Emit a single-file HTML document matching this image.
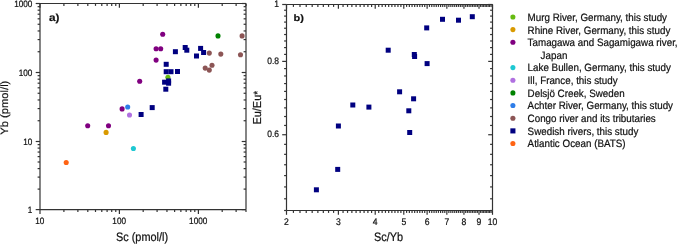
<!DOCTYPE html>
<html><head><meta charset="utf-8"><style>html,body{margin:0;padding:0;background:#fff;width:677px;height:244px;overflow:hidden}svg{display:block;will-change:transform}text{font-family:"Liberation Sans",sans-serif;text-rendering:geometricPrecision}</style></head>
<body><svg width="677" height="244" viewBox="0 0 677 244" font-family="Liberation Sans, sans-serif" fill="#111">
<rect width="677" height="244" fill="#fff"/>
<g><line x1="40.00" y1="3.50" x2="246.00" y2="3.50" stroke="#333333" stroke-width="1.2"/><line x1="40.00" y1="209.60" x2="246.00" y2="209.60" stroke="#333333" stroke-width="1.2"/><line x1="40.00" y1="3.50" x2="40.00" y2="209.60" stroke="#333333" stroke-width="1.2"/><line x1="246.00" y1="3.50" x2="246.00" y2="209.60" stroke="#333333" stroke-width="1.2"/><line x1="40.00" y1="209.60" x2="40.00" y2="213.90" stroke="#333333" stroke-width="1.2"/><line x1="40.00" y1="3.50" x2="40.00" y2="7.80" stroke="#333333" stroke-width="1.2"/><line x1="63.90" y1="209.60" x2="63.90" y2="212.00" stroke="#333333" stroke-width="1.2"/><line x1="63.90" y1="3.50" x2="63.90" y2="5.90" stroke="#333333" stroke-width="1.2"/><line x1="77.88" y1="209.60" x2="77.88" y2="212.00" stroke="#333333" stroke-width="1.2"/><line x1="77.88" y1="3.50" x2="77.88" y2="5.90" stroke="#333333" stroke-width="1.2"/><line x1="87.80" y1="209.60" x2="87.80" y2="212.00" stroke="#333333" stroke-width="1.2"/><line x1="87.80" y1="3.50" x2="87.80" y2="5.90" stroke="#333333" stroke-width="1.2"/><line x1="95.50" y1="209.60" x2="95.50" y2="212.00" stroke="#333333" stroke-width="1.2"/><line x1="95.50" y1="3.50" x2="95.50" y2="5.90" stroke="#333333" stroke-width="1.2"/><line x1="101.79" y1="209.60" x2="101.79" y2="212.00" stroke="#333333" stroke-width="1.2"/><line x1="101.79" y1="3.50" x2="101.79" y2="5.90" stroke="#333333" stroke-width="1.2"/><line x1="107.10" y1="209.60" x2="107.10" y2="212.00" stroke="#333333" stroke-width="1.2"/><line x1="107.10" y1="3.50" x2="107.10" y2="5.90" stroke="#333333" stroke-width="1.2"/><line x1="111.71" y1="209.60" x2="111.71" y2="212.00" stroke="#333333" stroke-width="1.2"/><line x1="111.71" y1="3.50" x2="111.71" y2="5.90" stroke="#333333" stroke-width="1.2"/><line x1="115.77" y1="209.60" x2="115.77" y2="212.00" stroke="#333333" stroke-width="1.2"/><line x1="115.77" y1="3.50" x2="115.77" y2="5.90" stroke="#333333" stroke-width="1.2"/><line x1="119.40" y1="209.60" x2="119.40" y2="213.90" stroke="#333333" stroke-width="1.2"/><line x1="119.40" y1="3.50" x2="119.40" y2="7.80" stroke="#333333" stroke-width="1.2"/><line x1="143.18" y1="209.60" x2="143.18" y2="212.00" stroke="#333333" stroke-width="1.2"/><line x1="143.18" y1="3.50" x2="143.18" y2="5.90" stroke="#333333" stroke-width="1.2"/><line x1="157.09" y1="209.60" x2="157.09" y2="212.00" stroke="#333333" stroke-width="1.2"/><line x1="157.09" y1="3.50" x2="157.09" y2="5.90" stroke="#333333" stroke-width="1.2"/><line x1="166.96" y1="209.60" x2="166.96" y2="212.00" stroke="#333333" stroke-width="1.2"/><line x1="166.96" y1="3.50" x2="166.96" y2="5.90" stroke="#333333" stroke-width="1.2"/><line x1="174.62" y1="209.60" x2="174.62" y2="212.00" stroke="#333333" stroke-width="1.2"/><line x1="174.62" y1="3.50" x2="174.62" y2="5.90" stroke="#333333" stroke-width="1.2"/><line x1="180.87" y1="209.60" x2="180.87" y2="212.00" stroke="#333333" stroke-width="1.2"/><line x1="180.87" y1="3.50" x2="180.87" y2="5.90" stroke="#333333" stroke-width="1.2"/><line x1="186.16" y1="209.60" x2="186.16" y2="212.00" stroke="#333333" stroke-width="1.2"/><line x1="186.16" y1="3.50" x2="186.16" y2="5.90" stroke="#333333" stroke-width="1.2"/><line x1="190.74" y1="209.60" x2="190.74" y2="212.00" stroke="#333333" stroke-width="1.2"/><line x1="190.74" y1="3.50" x2="190.74" y2="5.90" stroke="#333333" stroke-width="1.2"/><line x1="194.79" y1="209.60" x2="194.79" y2="212.00" stroke="#333333" stroke-width="1.2"/><line x1="194.79" y1="3.50" x2="194.79" y2="5.90" stroke="#333333" stroke-width="1.2"/><line x1="198.40" y1="209.60" x2="198.40" y2="213.90" stroke="#333333" stroke-width="1.2"/><line x1="198.40" y1="3.50" x2="198.40" y2="7.80" stroke="#333333" stroke-width="1.2"/><line x1="222.20" y1="209.60" x2="222.20" y2="212.00" stroke="#333333" stroke-width="1.2"/><line x1="222.20" y1="3.50" x2="222.20" y2="5.90" stroke="#333333" stroke-width="1.2"/><line x1="236.12" y1="209.60" x2="236.12" y2="212.00" stroke="#333333" stroke-width="1.2"/><line x1="236.12" y1="3.50" x2="236.12" y2="5.90" stroke="#333333" stroke-width="1.2"/><line x1="246.00" y1="209.60" x2="246.00" y2="212.00" stroke="#333333" stroke-width="1.2"/><line x1="246.00" y1="3.50" x2="246.00" y2="5.90" stroke="#333333" stroke-width="1.2"/><line x1="35.70" y1="209.60" x2="40.00" y2="209.60" stroke="#333333" stroke-width="1.2"/><line x1="241.70" y1="209.60" x2="246.00" y2="209.60" stroke="#333333" stroke-width="1.2"/><line x1="37.60" y1="189.10" x2="40.00" y2="189.10" stroke="#333333" stroke-width="1.2"/><line x1="243.60" y1="189.10" x2="246.00" y2="189.10" stroke="#333333" stroke-width="1.2"/><line x1="37.60" y1="177.11" x2="40.00" y2="177.11" stroke="#333333" stroke-width="1.2"/><line x1="243.60" y1="177.11" x2="246.00" y2="177.11" stroke="#333333" stroke-width="1.2"/><line x1="37.60" y1="168.60" x2="40.00" y2="168.60" stroke="#333333" stroke-width="1.2"/><line x1="243.60" y1="168.60" x2="246.00" y2="168.60" stroke="#333333" stroke-width="1.2"/><line x1="37.60" y1="162.00" x2="40.00" y2="162.00" stroke="#333333" stroke-width="1.2"/><line x1="243.60" y1="162.00" x2="246.00" y2="162.00" stroke="#333333" stroke-width="1.2"/><line x1="37.60" y1="156.61" x2="40.00" y2="156.61" stroke="#333333" stroke-width="1.2"/><line x1="243.60" y1="156.61" x2="246.00" y2="156.61" stroke="#333333" stroke-width="1.2"/><line x1="37.60" y1="152.05" x2="40.00" y2="152.05" stroke="#333333" stroke-width="1.2"/><line x1="243.60" y1="152.05" x2="246.00" y2="152.05" stroke="#333333" stroke-width="1.2"/><line x1="37.60" y1="148.10" x2="40.00" y2="148.10" stroke="#333333" stroke-width="1.2"/><line x1="243.60" y1="148.10" x2="246.00" y2="148.10" stroke="#333333" stroke-width="1.2"/><line x1="37.60" y1="144.62" x2="40.00" y2="144.62" stroke="#333333" stroke-width="1.2"/><line x1="243.60" y1="144.62" x2="246.00" y2="144.62" stroke="#333333" stroke-width="1.2"/><line x1="35.70" y1="141.50" x2="40.00" y2="141.50" stroke="#333333" stroke-width="1.2"/><line x1="241.70" y1="141.50" x2="246.00" y2="141.50" stroke="#333333" stroke-width="1.2"/><line x1="37.60" y1="120.73" x2="40.00" y2="120.73" stroke="#333333" stroke-width="1.2"/><line x1="243.60" y1="120.73" x2="246.00" y2="120.73" stroke="#333333" stroke-width="1.2"/><line x1="37.60" y1="108.58" x2="40.00" y2="108.58" stroke="#333333" stroke-width="1.2"/><line x1="243.60" y1="108.58" x2="246.00" y2="108.58" stroke="#333333" stroke-width="1.2"/><line x1="37.60" y1="99.96" x2="40.00" y2="99.96" stroke="#333333" stroke-width="1.2"/><line x1="243.60" y1="99.96" x2="246.00" y2="99.96" stroke="#333333" stroke-width="1.2"/><line x1="37.60" y1="93.27" x2="40.00" y2="93.27" stroke="#333333" stroke-width="1.2"/><line x1="243.60" y1="93.27" x2="246.00" y2="93.27" stroke="#333333" stroke-width="1.2"/><line x1="37.60" y1="87.81" x2="40.00" y2="87.81" stroke="#333333" stroke-width="1.2"/><line x1="243.60" y1="87.81" x2="246.00" y2="87.81" stroke="#333333" stroke-width="1.2"/><line x1="37.60" y1="83.19" x2="40.00" y2="83.19" stroke="#333333" stroke-width="1.2"/><line x1="243.60" y1="83.19" x2="246.00" y2="83.19" stroke="#333333" stroke-width="1.2"/><line x1="37.60" y1="79.19" x2="40.00" y2="79.19" stroke="#333333" stroke-width="1.2"/><line x1="243.60" y1="79.19" x2="246.00" y2="79.19" stroke="#333333" stroke-width="1.2"/><line x1="37.60" y1="75.66" x2="40.00" y2="75.66" stroke="#333333" stroke-width="1.2"/><line x1="243.60" y1="75.66" x2="246.00" y2="75.66" stroke="#333333" stroke-width="1.2"/><line x1="35.70" y1="72.50" x2="40.00" y2="72.50" stroke="#333333" stroke-width="1.2"/><line x1="241.70" y1="72.50" x2="246.00" y2="72.50" stroke="#333333" stroke-width="1.2"/><line x1="37.60" y1="51.73" x2="40.00" y2="51.73" stroke="#333333" stroke-width="1.2"/><line x1="243.60" y1="51.73" x2="246.00" y2="51.73" stroke="#333333" stroke-width="1.2"/><line x1="37.60" y1="39.58" x2="40.00" y2="39.58" stroke="#333333" stroke-width="1.2"/><line x1="243.60" y1="39.58" x2="246.00" y2="39.58" stroke="#333333" stroke-width="1.2"/><line x1="37.60" y1="30.96" x2="40.00" y2="30.96" stroke="#333333" stroke-width="1.2"/><line x1="243.60" y1="30.96" x2="246.00" y2="30.96" stroke="#333333" stroke-width="1.2"/><line x1="37.60" y1="24.27" x2="40.00" y2="24.27" stroke="#333333" stroke-width="1.2"/><line x1="243.60" y1="24.27" x2="246.00" y2="24.27" stroke="#333333" stroke-width="1.2"/><line x1="37.60" y1="18.81" x2="40.00" y2="18.81" stroke="#333333" stroke-width="1.2"/><line x1="243.60" y1="18.81" x2="246.00" y2="18.81" stroke="#333333" stroke-width="1.2"/><line x1="37.60" y1="14.19" x2="40.00" y2="14.19" stroke="#333333" stroke-width="1.2"/><line x1="243.60" y1="14.19" x2="246.00" y2="14.19" stroke="#333333" stroke-width="1.2"/><line x1="37.60" y1="10.19" x2="40.00" y2="10.19" stroke="#333333" stroke-width="1.2"/><line x1="243.60" y1="10.19" x2="246.00" y2="10.19" stroke="#333333" stroke-width="1.2"/><line x1="37.60" y1="6.66" x2="40.00" y2="6.66" stroke="#333333" stroke-width="1.2"/><line x1="243.60" y1="6.66" x2="246.00" y2="6.66" stroke="#333333" stroke-width="1.2"/><line x1="35.70" y1="3.50" x2="40.00" y2="3.50" stroke="#333333" stroke-width="1.2"/><line x1="241.70" y1="3.50" x2="246.00" y2="3.50" stroke="#333333" stroke-width="1.2"/><line x1="286.50" y1="4.50" x2="492.50" y2="4.50" stroke="#333333" stroke-width="1.2"/><line x1="286.50" y1="210.50" x2="492.50" y2="210.50" stroke="#333333" stroke-width="1.2"/><line x1="286.50" y1="4.50" x2="286.50" y2="210.50" stroke="#333333" stroke-width="1.2"/><line x1="492.50" y1="4.50" x2="492.50" y2="210.50" stroke="#333333" stroke-width="1.2"/><line x1="286.50" y1="210.50" x2="286.50" y2="214.80" stroke="#333333" stroke-width="1.2"/><line x1="286.50" y1="4.50" x2="286.50" y2="8.80" stroke="#333333" stroke-width="1.2"/><line x1="293.42" y1="210.50" x2="293.42" y2="212.90" stroke="#333333" stroke-width="1.2"/><line x1="293.42" y1="4.50" x2="293.42" y2="6.90" stroke="#333333" stroke-width="1.2"/><line x1="299.99" y1="210.50" x2="299.99" y2="212.90" stroke="#333333" stroke-width="1.2"/><line x1="299.99" y1="4.50" x2="299.99" y2="6.90" stroke="#333333" stroke-width="1.2"/><line x1="306.23" y1="210.50" x2="306.23" y2="212.90" stroke="#333333" stroke-width="1.2"/><line x1="306.23" y1="4.50" x2="306.23" y2="6.90" stroke="#333333" stroke-width="1.2"/><line x1="312.18" y1="210.50" x2="312.18" y2="212.90" stroke="#333333" stroke-width="1.2"/><line x1="312.18" y1="4.50" x2="312.18" y2="6.90" stroke="#333333" stroke-width="1.2"/><line x1="317.87" y1="210.50" x2="317.87" y2="212.90" stroke="#333333" stroke-width="1.2"/><line x1="317.87" y1="4.50" x2="317.87" y2="6.90" stroke="#333333" stroke-width="1.2"/><line x1="323.32" y1="210.50" x2="323.32" y2="212.90" stroke="#333333" stroke-width="1.2"/><line x1="323.32" y1="4.50" x2="323.32" y2="6.90" stroke="#333333" stroke-width="1.2"/><line x1="328.55" y1="210.50" x2="328.55" y2="212.90" stroke="#333333" stroke-width="1.2"/><line x1="328.55" y1="4.50" x2="328.55" y2="6.90" stroke="#333333" stroke-width="1.2"/><line x1="333.57" y1="210.50" x2="333.57" y2="212.90" stroke="#333333" stroke-width="1.2"/><line x1="333.57" y1="4.50" x2="333.57" y2="6.90" stroke="#333333" stroke-width="1.2"/><line x1="338.40" y1="210.50" x2="338.40" y2="214.80" stroke="#333333" stroke-width="1.2"/><line x1="338.40" y1="4.50" x2="338.40" y2="8.80" stroke="#333333" stroke-width="1.2"/><line x1="343.05" y1="210.50" x2="343.05" y2="212.90" stroke="#333333" stroke-width="1.2"/><line x1="343.05" y1="4.50" x2="343.05" y2="6.90" stroke="#333333" stroke-width="1.2"/><line x1="347.54" y1="210.50" x2="347.54" y2="212.90" stroke="#333333" stroke-width="1.2"/><line x1="347.54" y1="4.50" x2="347.54" y2="6.90" stroke="#333333" stroke-width="1.2"/><line x1="351.88" y1="210.50" x2="351.88" y2="212.90" stroke="#333333" stroke-width="1.2"/><line x1="351.88" y1="4.50" x2="351.88" y2="6.90" stroke="#333333" stroke-width="1.2"/><line x1="356.08" y1="210.50" x2="356.08" y2="212.90" stroke="#333333" stroke-width="1.2"/><line x1="356.08" y1="4.50" x2="356.08" y2="6.90" stroke="#333333" stroke-width="1.2"/><line x1="360.14" y1="210.50" x2="360.14" y2="212.90" stroke="#333333" stroke-width="1.2"/><line x1="360.14" y1="4.50" x2="360.14" y2="6.90" stroke="#333333" stroke-width="1.2"/><line x1="364.08" y1="210.50" x2="364.08" y2="212.90" stroke="#333333" stroke-width="1.2"/><line x1="364.08" y1="4.50" x2="364.08" y2="6.90" stroke="#333333" stroke-width="1.2"/><line x1="367.90" y1="210.50" x2="367.90" y2="212.90" stroke="#333333" stroke-width="1.2"/><line x1="367.90" y1="4.50" x2="367.90" y2="6.90" stroke="#333333" stroke-width="1.2"/><line x1="371.61" y1="210.50" x2="371.61" y2="212.90" stroke="#333333" stroke-width="1.2"/><line x1="371.61" y1="4.50" x2="371.61" y2="6.90" stroke="#333333" stroke-width="1.2"/><line x1="375.22" y1="210.50" x2="375.22" y2="214.80" stroke="#333333" stroke-width="1.2"/><line x1="375.22" y1="4.50" x2="375.22" y2="8.80" stroke="#333333" stroke-width="1.2"/><line x1="378.73" y1="210.50" x2="378.73" y2="212.90" stroke="#333333" stroke-width="1.2"/><line x1="378.73" y1="4.50" x2="378.73" y2="6.90" stroke="#333333" stroke-width="1.2"/><line x1="382.14" y1="210.50" x2="382.14" y2="212.90" stroke="#333333" stroke-width="1.2"/><line x1="382.14" y1="4.50" x2="382.14" y2="6.90" stroke="#333333" stroke-width="1.2"/><line x1="385.46" y1="210.50" x2="385.46" y2="212.90" stroke="#333333" stroke-width="1.2"/><line x1="385.46" y1="4.50" x2="385.46" y2="6.90" stroke="#333333" stroke-width="1.2"/><line x1="388.70" y1="210.50" x2="388.70" y2="212.90" stroke="#333333" stroke-width="1.2"/><line x1="388.70" y1="4.50" x2="388.70" y2="6.90" stroke="#333333" stroke-width="1.2"/><line x1="391.87" y1="210.50" x2="391.87" y2="212.90" stroke="#333333" stroke-width="1.2"/><line x1="391.87" y1="4.50" x2="391.87" y2="6.90" stroke="#333333" stroke-width="1.2"/><line x1="394.95" y1="210.50" x2="394.95" y2="212.90" stroke="#333333" stroke-width="1.2"/><line x1="394.95" y1="4.50" x2="394.95" y2="6.90" stroke="#333333" stroke-width="1.2"/><line x1="397.96" y1="210.50" x2="397.96" y2="212.90" stroke="#333333" stroke-width="1.2"/><line x1="397.96" y1="4.50" x2="397.96" y2="6.90" stroke="#333333" stroke-width="1.2"/><line x1="400.90" y1="210.50" x2="400.90" y2="212.90" stroke="#333333" stroke-width="1.2"/><line x1="400.90" y1="4.50" x2="400.90" y2="6.90" stroke="#333333" stroke-width="1.2"/><line x1="403.78" y1="210.50" x2="403.78" y2="214.80" stroke="#333333" stroke-width="1.2"/><line x1="403.78" y1="4.50" x2="403.78" y2="8.80" stroke="#333333" stroke-width="1.2"/><line x1="406.59" y1="210.50" x2="406.59" y2="212.90" stroke="#333333" stroke-width="1.2"/><line x1="406.59" y1="4.50" x2="406.59" y2="6.90" stroke="#333333" stroke-width="1.2"/><line x1="409.35" y1="210.50" x2="409.35" y2="212.90" stroke="#333333" stroke-width="1.2"/><line x1="409.35" y1="4.50" x2="409.35" y2="6.90" stroke="#333333" stroke-width="1.2"/><line x1="412.04" y1="210.50" x2="412.04" y2="212.90" stroke="#333333" stroke-width="1.2"/><line x1="412.04" y1="4.50" x2="412.04" y2="6.90" stroke="#333333" stroke-width="1.2"/><line x1="414.68" y1="210.50" x2="414.68" y2="212.90" stroke="#333333" stroke-width="1.2"/><line x1="414.68" y1="4.50" x2="414.68" y2="6.90" stroke="#333333" stroke-width="1.2"/><line x1="417.27" y1="210.50" x2="417.27" y2="212.90" stroke="#333333" stroke-width="1.2"/><line x1="417.27" y1="4.50" x2="417.27" y2="6.90" stroke="#333333" stroke-width="1.2"/><line x1="419.80" y1="210.50" x2="419.80" y2="212.90" stroke="#333333" stroke-width="1.2"/><line x1="419.80" y1="4.50" x2="419.80" y2="6.90" stroke="#333333" stroke-width="1.2"/><line x1="422.29" y1="210.50" x2="422.29" y2="212.90" stroke="#333333" stroke-width="1.2"/><line x1="422.29" y1="4.50" x2="422.29" y2="6.90" stroke="#333333" stroke-width="1.2"/><line x1="424.72" y1="210.50" x2="424.72" y2="212.90" stroke="#333333" stroke-width="1.2"/><line x1="424.72" y1="4.50" x2="424.72" y2="6.90" stroke="#333333" stroke-width="1.2"/><line x1="427.12" y1="210.50" x2="427.12" y2="214.80" stroke="#333333" stroke-width="1.2"/><line x1="427.12" y1="4.50" x2="427.12" y2="8.80" stroke="#333333" stroke-width="1.2"/><line x1="429.47" y1="210.50" x2="429.47" y2="212.90" stroke="#333333" stroke-width="1.2"/><line x1="429.47" y1="4.50" x2="429.47" y2="6.90" stroke="#333333" stroke-width="1.2"/><line x1="431.77" y1="210.50" x2="431.77" y2="212.90" stroke="#333333" stroke-width="1.2"/><line x1="431.77" y1="4.50" x2="431.77" y2="6.90" stroke="#333333" stroke-width="1.2"/><line x1="434.04" y1="210.50" x2="434.04" y2="212.90" stroke="#333333" stroke-width="1.2"/><line x1="434.04" y1="4.50" x2="434.04" y2="6.90" stroke="#333333" stroke-width="1.2"/><line x1="436.26" y1="210.50" x2="436.26" y2="212.90" stroke="#333333" stroke-width="1.2"/><line x1="436.26" y1="4.50" x2="436.26" y2="6.90" stroke="#333333" stroke-width="1.2"/><line x1="438.45" y1="210.50" x2="438.45" y2="212.90" stroke="#333333" stroke-width="1.2"/><line x1="438.45" y1="4.50" x2="438.45" y2="6.90" stroke="#333333" stroke-width="1.2"/><line x1="440.60" y1="210.50" x2="440.60" y2="212.90" stroke="#333333" stroke-width="1.2"/><line x1="440.60" y1="4.50" x2="440.60" y2="6.90" stroke="#333333" stroke-width="1.2"/><line x1="442.72" y1="210.50" x2="442.72" y2="212.90" stroke="#333333" stroke-width="1.2"/><line x1="442.72" y1="4.50" x2="442.72" y2="6.90" stroke="#333333" stroke-width="1.2"/><line x1="444.80" y1="210.50" x2="444.80" y2="212.90" stroke="#333333" stroke-width="1.2"/><line x1="444.80" y1="4.50" x2="444.80" y2="6.90" stroke="#333333" stroke-width="1.2"/><line x1="446.85" y1="210.50" x2="446.85" y2="214.80" stroke="#333333" stroke-width="1.2"/><line x1="446.85" y1="4.50" x2="446.85" y2="8.80" stroke="#333333" stroke-width="1.2"/><line x1="448.86" y1="210.50" x2="448.86" y2="212.90" stroke="#333333" stroke-width="1.2"/><line x1="448.86" y1="4.50" x2="448.86" y2="6.90" stroke="#333333" stroke-width="1.2"/><line x1="450.85" y1="210.50" x2="450.85" y2="212.90" stroke="#333333" stroke-width="1.2"/><line x1="450.85" y1="4.50" x2="450.85" y2="6.90" stroke="#333333" stroke-width="1.2"/><line x1="452.80" y1="210.50" x2="452.80" y2="212.90" stroke="#333333" stroke-width="1.2"/><line x1="452.80" y1="4.50" x2="452.80" y2="6.90" stroke="#333333" stroke-width="1.2"/><line x1="454.73" y1="210.50" x2="454.73" y2="212.90" stroke="#333333" stroke-width="1.2"/><line x1="454.73" y1="4.50" x2="454.73" y2="6.90" stroke="#333333" stroke-width="1.2"/><line x1="456.62" y1="210.50" x2="456.62" y2="212.90" stroke="#333333" stroke-width="1.2"/><line x1="456.62" y1="4.50" x2="456.62" y2="6.90" stroke="#333333" stroke-width="1.2"/><line x1="458.49" y1="210.50" x2="458.49" y2="212.90" stroke="#333333" stroke-width="1.2"/><line x1="458.49" y1="4.50" x2="458.49" y2="6.90" stroke="#333333" stroke-width="1.2"/><line x1="460.33" y1="210.50" x2="460.33" y2="212.90" stroke="#333333" stroke-width="1.2"/><line x1="460.33" y1="4.50" x2="460.33" y2="6.90" stroke="#333333" stroke-width="1.2"/><line x1="462.15" y1="210.50" x2="462.15" y2="212.90" stroke="#333333" stroke-width="1.2"/><line x1="462.15" y1="4.50" x2="462.15" y2="6.90" stroke="#333333" stroke-width="1.2"/><line x1="463.94" y1="210.50" x2="463.94" y2="214.80" stroke="#333333" stroke-width="1.2"/><line x1="463.94" y1="4.50" x2="463.94" y2="8.80" stroke="#333333" stroke-width="1.2"/><line x1="465.70" y1="210.50" x2="465.70" y2="212.90" stroke="#333333" stroke-width="1.2"/><line x1="465.70" y1="4.50" x2="465.70" y2="6.90" stroke="#333333" stroke-width="1.2"/><line x1="467.45" y1="210.50" x2="467.45" y2="212.90" stroke="#333333" stroke-width="1.2"/><line x1="467.45" y1="4.50" x2="467.45" y2="6.90" stroke="#333333" stroke-width="1.2"/><line x1="469.16" y1="210.50" x2="469.16" y2="212.90" stroke="#333333" stroke-width="1.2"/><line x1="469.16" y1="4.50" x2="469.16" y2="6.90" stroke="#333333" stroke-width="1.2"/><line x1="470.86" y1="210.50" x2="470.86" y2="212.90" stroke="#333333" stroke-width="1.2"/><line x1="470.86" y1="4.50" x2="470.86" y2="6.90" stroke="#333333" stroke-width="1.2"/><line x1="472.53" y1="210.50" x2="472.53" y2="212.90" stroke="#333333" stroke-width="1.2"/><line x1="472.53" y1="4.50" x2="472.53" y2="6.90" stroke="#333333" stroke-width="1.2"/><line x1="474.18" y1="210.50" x2="474.18" y2="212.90" stroke="#333333" stroke-width="1.2"/><line x1="474.18" y1="4.50" x2="474.18" y2="6.90" stroke="#333333" stroke-width="1.2"/><line x1="475.81" y1="210.50" x2="475.81" y2="212.90" stroke="#333333" stroke-width="1.2"/><line x1="475.81" y1="4.50" x2="475.81" y2="6.90" stroke="#333333" stroke-width="1.2"/><line x1="477.42" y1="210.50" x2="477.42" y2="212.90" stroke="#333333" stroke-width="1.2"/><line x1="477.42" y1="4.50" x2="477.42" y2="6.90" stroke="#333333" stroke-width="1.2"/><line x1="479.01" y1="210.50" x2="479.01" y2="214.80" stroke="#333333" stroke-width="1.2"/><line x1="479.01" y1="4.50" x2="479.01" y2="8.80" stroke="#333333" stroke-width="1.2"/><line x1="480.58" y1="210.50" x2="480.58" y2="212.90" stroke="#333333" stroke-width="1.2"/><line x1="480.58" y1="4.50" x2="480.58" y2="6.90" stroke="#333333" stroke-width="1.2"/><line x1="482.14" y1="210.50" x2="482.14" y2="212.90" stroke="#333333" stroke-width="1.2"/><line x1="482.14" y1="4.50" x2="482.14" y2="6.90" stroke="#333333" stroke-width="1.2"/><line x1="483.67" y1="210.50" x2="483.67" y2="212.90" stroke="#333333" stroke-width="1.2"/><line x1="483.67" y1="4.50" x2="483.67" y2="6.90" stroke="#333333" stroke-width="1.2"/><line x1="485.18" y1="210.50" x2="485.18" y2="212.90" stroke="#333333" stroke-width="1.2"/><line x1="485.18" y1="4.50" x2="485.18" y2="6.90" stroke="#333333" stroke-width="1.2"/><line x1="486.68" y1="210.50" x2="486.68" y2="212.90" stroke="#333333" stroke-width="1.2"/><line x1="486.68" y1="4.50" x2="486.68" y2="6.90" stroke="#333333" stroke-width="1.2"/><line x1="488.16" y1="210.50" x2="488.16" y2="212.90" stroke="#333333" stroke-width="1.2"/><line x1="488.16" y1="4.50" x2="488.16" y2="6.90" stroke="#333333" stroke-width="1.2"/><line x1="489.62" y1="210.50" x2="489.62" y2="212.90" stroke="#333333" stroke-width="1.2"/><line x1="489.62" y1="4.50" x2="489.62" y2="6.90" stroke="#333333" stroke-width="1.2"/><line x1="491.07" y1="210.50" x2="491.07" y2="212.90" stroke="#333333" stroke-width="1.2"/><line x1="491.07" y1="4.50" x2="491.07" y2="6.90" stroke="#333333" stroke-width="1.2"/><line x1="492.50" y1="210.50" x2="492.50" y2="214.80" stroke="#333333" stroke-width="1.2"/><line x1="492.50" y1="4.50" x2="492.50" y2="8.80" stroke="#333333" stroke-width="1.2"/><line x1="282.20" y1="4.50" x2="286.50" y2="4.50" stroke="#333333" stroke-width="1.2"/><line x1="488.20" y1="4.50" x2="492.50" y2="4.50" stroke="#333333" stroke-width="1.2"/><line x1="284.10" y1="10.23" x2="286.50" y2="10.23" stroke="#333333" stroke-width="1.2"/><line x1="490.10" y1="10.23" x2="492.50" y2="10.23" stroke="#333333" stroke-width="1.2"/><line x1="284.10" y1="16.09" x2="286.50" y2="16.09" stroke="#333333" stroke-width="1.2"/><line x1="490.10" y1="16.09" x2="492.50" y2="16.09" stroke="#333333" stroke-width="1.2"/><line x1="284.10" y1="22.09" x2="286.50" y2="22.09" stroke="#333333" stroke-width="1.2"/><line x1="490.10" y1="22.09" x2="492.50" y2="22.09" stroke="#333333" stroke-width="1.2"/><line x1="284.10" y1="28.23" x2="286.50" y2="28.23" stroke="#333333" stroke-width="1.2"/><line x1="490.10" y1="28.23" x2="492.50" y2="28.23" stroke="#333333" stroke-width="1.2"/><line x1="284.10" y1="34.53" x2="286.50" y2="34.53" stroke="#333333" stroke-width="1.2"/><line x1="490.10" y1="34.53" x2="492.50" y2="34.53" stroke="#333333" stroke-width="1.2"/><line x1="284.10" y1="40.98" x2="286.50" y2="40.98" stroke="#333333" stroke-width="1.2"/><line x1="490.10" y1="40.98" x2="492.50" y2="40.98" stroke="#333333" stroke-width="1.2"/><line x1="284.10" y1="47.60" x2="286.50" y2="47.60" stroke="#333333" stroke-width="1.2"/><line x1="490.10" y1="47.60" x2="492.50" y2="47.60" stroke="#333333" stroke-width="1.2"/><line x1="284.10" y1="54.40" x2="286.50" y2="54.40" stroke="#333333" stroke-width="1.2"/><line x1="490.10" y1="54.40" x2="492.50" y2="54.40" stroke="#333333" stroke-width="1.2"/><line x1="282.20" y1="61.39" x2="286.50" y2="61.39" stroke="#333333" stroke-width="1.2"/><line x1="488.20" y1="61.39" x2="492.50" y2="61.39" stroke="#333333" stroke-width="1.2"/><line x1="284.10" y1="68.57" x2="286.50" y2="68.57" stroke="#333333" stroke-width="1.2"/><line x1="490.10" y1="68.57" x2="492.50" y2="68.57" stroke="#333333" stroke-width="1.2"/><line x1="284.10" y1="75.96" x2="286.50" y2="75.96" stroke="#333333" stroke-width="1.2"/><line x1="490.10" y1="75.96" x2="492.50" y2="75.96" stroke="#333333" stroke-width="1.2"/><line x1="284.10" y1="83.57" x2="286.50" y2="83.57" stroke="#333333" stroke-width="1.2"/><line x1="490.10" y1="83.57" x2="492.50" y2="83.57" stroke="#333333" stroke-width="1.2"/><line x1="284.10" y1="91.41" x2="286.50" y2="91.41" stroke="#333333" stroke-width="1.2"/><line x1="490.10" y1="91.41" x2="492.50" y2="91.41" stroke="#333333" stroke-width="1.2"/><line x1="284.10" y1="99.51" x2="286.50" y2="99.51" stroke="#333333" stroke-width="1.2"/><line x1="490.10" y1="99.51" x2="492.50" y2="99.51" stroke="#333333" stroke-width="1.2"/><line x1="284.10" y1="107.87" x2="286.50" y2="107.87" stroke="#333333" stroke-width="1.2"/><line x1="490.10" y1="107.87" x2="492.50" y2="107.87" stroke="#333333" stroke-width="1.2"/><line x1="284.10" y1="116.51" x2="286.50" y2="116.51" stroke="#333333" stroke-width="1.2"/><line x1="490.10" y1="116.51" x2="492.50" y2="116.51" stroke="#333333" stroke-width="1.2"/><line x1="284.10" y1="125.45" x2="286.50" y2="125.45" stroke="#333333" stroke-width="1.2"/><line x1="490.10" y1="125.45" x2="492.50" y2="125.45" stroke="#333333" stroke-width="1.2"/><line x1="282.20" y1="134.73" x2="286.50" y2="134.73" stroke="#333333" stroke-width="1.2"/><line x1="488.20" y1="134.73" x2="492.50" y2="134.73" stroke="#333333" stroke-width="1.2"/><line x1="284.10" y1="144.35" x2="286.50" y2="144.35" stroke="#333333" stroke-width="1.2"/><line x1="490.10" y1="144.35" x2="492.50" y2="144.35" stroke="#333333" stroke-width="1.2"/><line x1="284.10" y1="154.34" x2="286.50" y2="154.34" stroke="#333333" stroke-width="1.2"/><line x1="490.10" y1="154.34" x2="492.50" y2="154.34" stroke="#333333" stroke-width="1.2"/><line x1="284.10" y1="164.75" x2="286.50" y2="164.75" stroke="#333333" stroke-width="1.2"/><line x1="490.10" y1="164.75" x2="492.50" y2="164.75" stroke="#333333" stroke-width="1.2"/><line x1="284.10" y1="175.60" x2="286.50" y2="175.60" stroke="#333333" stroke-width="1.2"/><line x1="490.10" y1="175.60" x2="492.50" y2="175.60" stroke="#333333" stroke-width="1.2"/><line x1="284.10" y1="186.93" x2="286.50" y2="186.93" stroke="#333333" stroke-width="1.2"/><line x1="490.10" y1="186.93" x2="492.50" y2="186.93" stroke="#333333" stroke-width="1.2"/><line x1="284.10" y1="198.79" x2="286.50" y2="198.79" stroke="#333333" stroke-width="1.2"/><line x1="490.10" y1="198.79" x2="492.50" y2="198.79" stroke="#333333" stroke-width="1.2"/><line x1="284.10" y1="210.50" x2="286.50" y2="210.50" stroke="#333333" stroke-width="1.2"/><line x1="490.10" y1="210.50" x2="492.50" y2="210.50" stroke="#333333" stroke-width="1.2"/></g>
<g><circle cx="162.70" cy="34.20" r="2.55" fill="#800080"/><circle cx="156.10" cy="48.70" r="2.55" fill="#800080"/><circle cx="160.70" cy="48.70" r="2.55" fill="#800080"/><circle cx="156.10" cy="60.10" r="2.55" fill="#800080"/><circle cx="139.70" cy="81.30" r="2.55" fill="#800080"/><circle cx="122.10" cy="108.90" r="2.55" fill="#800080"/><circle cx="87.70" cy="125.70" r="2.55" fill="#800080"/><circle cx="108.50" cy="125.70" r="2.55" fill="#800080"/><circle cx="127.70" cy="107.00" r="2.55" fill="#2e7de8"/><circle cx="129.50" cy="115.00" r="2.55" fill="#b070e0"/><circle cx="106.10" cy="132.40" r="2.55" fill="#d99a00"/><circle cx="133.40" cy="148.50" r="2.55" fill="#1ec8d2"/><circle cx="66.20" cy="162.50" r="2.55" fill="#ff6414"/><circle cx="218.00" cy="35.90" r="2.55" fill="#008200"/><circle cx="167.90" cy="77.20" r="2.55" fill="#66bb11"/><circle cx="209.30" cy="53.10" r="2.55" fill="#8c5555"/><circle cx="220.80" cy="54.10" r="2.55" fill="#8c5555"/><circle cx="240.50" cy="54.80" r="2.55" fill="#8c5555"/><circle cx="242.10" cy="35.90" r="2.55" fill="#8c5555"/><circle cx="205.20" cy="68.10" r="2.55" fill="#8c5555"/><circle cx="209.30" cy="70.10" r="2.55" fill="#8c5555"/><circle cx="212.00" cy="65.30" r="2.55" fill="#8c5555"/><rect x="172.90" y="49.20" width="5.0" height="5.0" fill="#000080"/><rect x="182.70" y="45.00" width="5.0" height="5.0" fill="#000080"/><rect x="184.30" y="47.70" width="5.0" height="5.0" fill="#000080"/><rect x="194.00" y="53.50" width="5.0" height="5.0" fill="#000080"/><rect x="198.10" y="45.90" width="5.0" height="5.0" fill="#000080"/><rect x="201.10" y="50.00" width="5.0" height="5.0" fill="#000080"/><rect x="163.70" y="61.80" width="5.0" height="5.0" fill="#000080"/><rect x="163.70" y="69.20" width="5.0" height="5.0" fill="#000080"/><rect x="168.50" y="69.20" width="5.0" height="5.0" fill="#000080"/><rect x="175.00" y="69.00" width="5.0" height="5.0" fill="#000080"/><rect x="162.10" y="79.70" width="5.0" height="5.0" fill="#000080"/><rect x="166.10" y="78.40" width="5.0" height="5.0" fill="#000080"/><rect x="166.10" y="80.70" width="5.0" height="5.0" fill="#000080"/><rect x="163.30" y="86.70" width="5.0" height="5.0" fill="#000080"/><rect x="149.70" y="105.10" width="5.0" height="5.0" fill="#000080"/><rect x="138.60" y="112.00" width="5.0" height="5.0" fill="#000080"/><rect x="313.90" y="187.30" width="5.0" height="5.0" fill="#000080"/><rect x="335.20" y="166.90" width="5.0" height="5.0" fill="#000080"/><rect x="335.90" y="123.50" width="5.0" height="5.0" fill="#000080"/><rect x="350.30" y="102.50" width="5.0" height="5.0" fill="#000080"/><rect x="366.40" y="104.60" width="5.0" height="5.0" fill="#000080"/><rect x="385.70" y="47.70" width="5.0" height="5.0" fill="#000080"/><rect x="397.10" y="89.30" width="5.0" height="5.0" fill="#000080"/><rect x="406.30" y="108.30" width="5.0" height="5.0" fill="#000080"/><rect x="407.20" y="130.00" width="5.0" height="5.0" fill="#000080"/><rect x="411.10" y="96.30" width="5.0" height="5.0" fill="#000080"/><rect x="411.80" y="52.00" width="5.0" height="5.0" fill="#000080"/><rect x="412.10" y="54.00" width="5.0" height="5.0" fill="#000080"/><rect x="424.60" y="61.10" width="5.0" height="5.0" fill="#000080"/><rect x="424.20" y="25.40" width="5.0" height="5.0" fill="#000080"/><rect x="440.00" y="16.80" width="5.0" height="5.0" fill="#000080"/><rect x="456.00" y="17.70" width="5.0" height="5.0" fill="#000080"/><rect x="469.80" y="14.20" width="5.0" height="5.0" fill="#000080"/><circle cx="512.90" cy="16.95" r="2.55" fill="#66bb11"/><circle cx="512.90" cy="29.61" r="2.55" fill="#d99a00"/><circle cx="512.90" cy="42.27" r="2.55" fill="#800080"/><circle cx="512.90" cy="67.59" r="2.55" fill="#1ec8d2"/><circle cx="512.90" cy="80.25" r="2.55" fill="#b070e0"/><circle cx="512.90" cy="92.91" r="2.55" fill="#008200"/><circle cx="512.90" cy="105.57" r="2.55" fill="#2e7de8"/><circle cx="512.90" cy="118.23" r="2.55" fill="#8c5555"/><rect x="510.35" y="128.34" width="5.1" height="5.1" fill="#000080"/><circle cx="512.90" cy="143.55" r="2.55" fill="#ff6414"/></g>
<g stroke="#111" stroke-width="0.2"><text transform="translate(39.80,224.20) scale(1,1.13)" font-size="8.2" text-anchor="middle" font-weight="normal" >10</text><text transform="translate(119.20,224.20) scale(1,1.13)" font-size="8.2" text-anchor="middle" font-weight="normal" >100</text><text transform="translate(198.20,224.20) scale(1,1.13)" font-size="8.2" text-anchor="middle" font-weight="normal" >1000</text><text transform="translate(32.40,212.95) scale(1,1.13)" font-size="8.2" text-anchor="end" font-weight="normal" >1</text><text transform="translate(32.40,144.85) scale(1,1.13)" font-size="8.2" text-anchor="end" font-weight="normal" >10</text><text transform="translate(32.40,75.85) scale(1,1.13)" font-size="8.2" text-anchor="end" font-weight="normal" >100</text><text transform="translate(32.40,6.85) scale(1,1.13)" font-size="8.2" text-anchor="end" font-weight="normal" >1000</text><text transform="translate(286.50,224.80) scale(1,1.12)" font-size="8.6" text-anchor="middle" font-weight="normal" >2</text><text transform="translate(338.40,224.80) scale(1,1.12)" font-size="8.6" text-anchor="middle" font-weight="normal" >3</text><text transform="translate(375.22,224.80) scale(1,1.12)" font-size="8.6" text-anchor="middle" font-weight="normal" >4</text><text transform="translate(403.78,224.80) scale(1,1.12)" font-size="8.6" text-anchor="middle" font-weight="normal" >5</text><text transform="translate(427.12,224.80) scale(1,1.12)" font-size="8.6" text-anchor="middle" font-weight="normal" >6</text><text transform="translate(446.85,224.80) scale(1,1.12)" font-size="8.6" text-anchor="middle" font-weight="normal" >7</text><text transform="translate(463.94,224.80) scale(1,1.12)" font-size="8.6" text-anchor="middle" font-weight="normal" >8</text><text transform="translate(479.01,224.80) scale(1,1.12)" font-size="8.6" text-anchor="middle" font-weight="normal" >9</text><text transform="translate(492.50,224.80) scale(1,1.12)" font-size="8.6" text-anchor="middle" font-weight="normal" >10</text><text transform="translate(279.00,7.00) scale(1,1.1)" font-size="8.5" text-anchor="end" font-weight="normal" >1</text><text transform="translate(279.00,63.89) scale(1,1.1)" font-size="8.5" text-anchor="end" font-weight="normal" >0.8</text><text transform="translate(279.00,137.23) scale(1,1.1)" font-size="8.5" text-anchor="end" font-weight="normal" >0.6</text><text transform="translate(142.00,241.20) scale(1,1.12)" font-size="10.9" text-anchor="middle" font-weight="normal" >Sc (pmol/l)</text><text transform="translate(388.60,241.30) scale(1,1.12)" font-size="10.9" text-anchor="middle" font-weight="normal" >Sc/Yb</text><text transform="translate(8.1,107.7) rotate(-90) scale(1,0.95)" font-size="11.2" text-anchor="middle">Yb (pmol/l)</text><text transform="translate(261.4,107.7) rotate(-90) scale(1,1.06)" font-size="10.9" text-anchor="middle">Eu/Eu<tspan dy="-0.3" font-size="10">*</tspan></text><text transform="translate(48.90,20.50) scale(1,0.88)" font-size="11.8" text-anchor="start" font-weight="bold" >a)</text><text transform="translate(293.50,21.30) scale(1,0.84)" font-size="11.0" text-anchor="start" font-weight="bold" >b)</text><text transform="translate(527.60,20.85) scale(1,1.08)" font-size="9.82" text-anchor="start" font-weight="normal" >Murg River, Germany, this study</text><text transform="translate(527.60,33.51) scale(1,1.08)" font-size="9.82" text-anchor="start" font-weight="normal" >Rhine River, Germany, this study</text><text transform="translate(527.60,46.17) scale(1,1.08)" font-size="9.82" text-anchor="start" font-weight="normal" >Tamagawa and Sagamigawa river,</text><text transform="translate(540.60,58.83) scale(1,1.08)" font-size="9.82" text-anchor="start" font-weight="normal" >Japan</text><text transform="translate(527.60,71.49) scale(1,1.08)" font-size="9.82" text-anchor="start" font-weight="normal" >Lake Bullen, Germany, this study</text><text transform="translate(527.60,84.15) scale(1,1.08)" font-size="9.82" text-anchor="start" font-weight="normal" >Ill, France, this study</text><text transform="translate(527.60,96.81) scale(1,1.08)" font-size="9.82" text-anchor="start" font-weight="normal" >Delsjö Creek, Sweden</text><text transform="translate(527.60,109.47) scale(1,1.08)" font-size="9.82" text-anchor="start" font-weight="normal" >Achter River, Germany, this study</text><text transform="translate(527.60,122.13) scale(1,1.08)" font-size="9.82" text-anchor="start" font-weight="normal" >Congo river and its tributaries</text><text transform="translate(527.60,134.79) scale(1,1.08)" font-size="9.82" text-anchor="start" font-weight="normal" >Swedish rivers, this study</text><text transform="translate(527.60,147.45) scale(1,1.08)" font-size="9.82" text-anchor="start" font-weight="normal" >Atlantic Ocean (BATS)</text></g>
</svg></body></html>
